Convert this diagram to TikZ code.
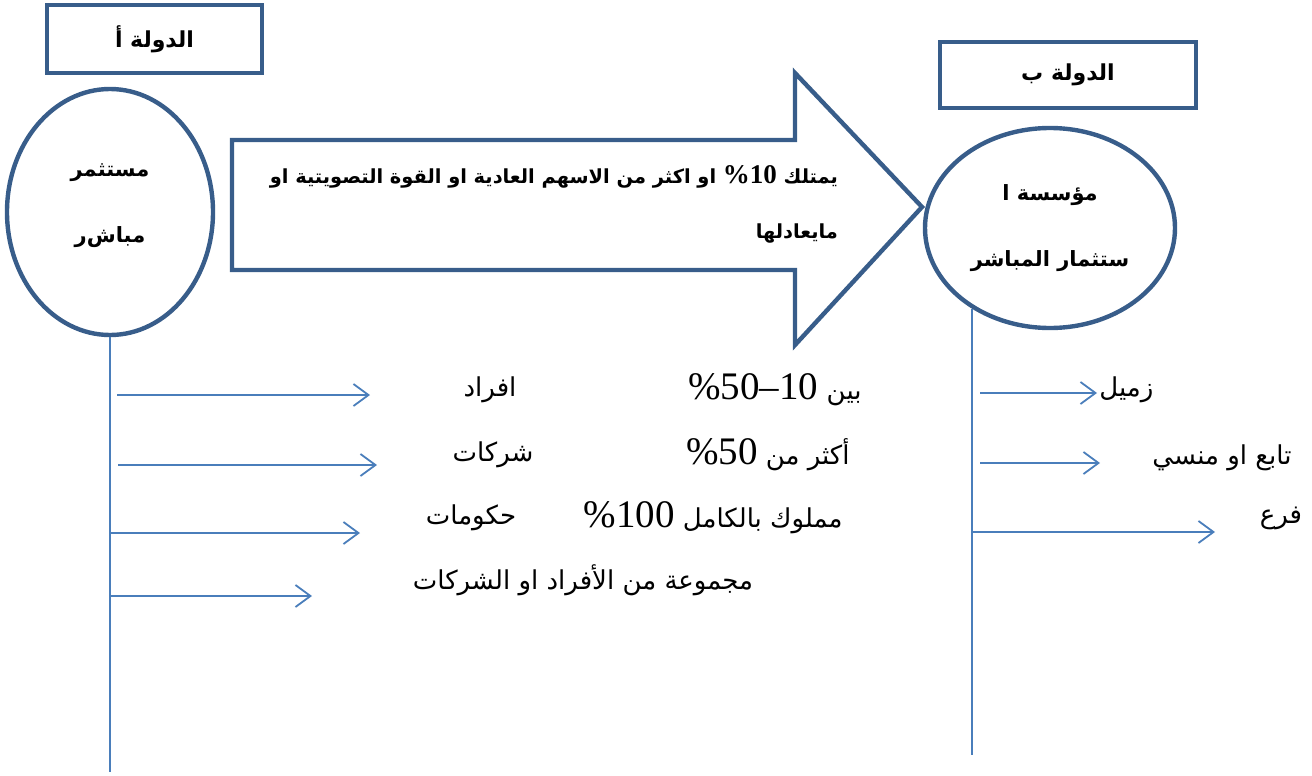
\documentclass[tikz,border=0pt]{standalone}
\usepackage{fontspec}
\usetikzlibrary{shapes.geometric, arrows.meta}
\definecolor{boxblue}{HTML}{385D8A}
\definecolor{lineblue}{HTML}{4A7EBB}
\newfontfamily\arabicfont[Script=Arabic]{DejaVu Sans}
\newfontfamily\numfont{Liberation Serif}
\TeXXeTstate=1

\begin{document}
\begin{tikzpicture}[x=0.5pt, y=-0.5pt,
            country/.style ={draw=boxblue, line width=2.2pt, font=\arabicfont\bfseries\fontsize{11}{13}\selectfont},
            agent/.style ={ellipse, draw=boxblue, line width=2.2pt, align=center,
            font=\arabicfont\bfseries\fontsize{10.5}{33}\selectfont},
            stem/.style ={draw=lineblue, line width=0.9pt},
            link/.style ={stem, -{Straight Barb[length=7.5pt, width=11pt]}},
            rowtext/.style ={font=\arabicfont\fontsize{13}{15}\selectfont, inner sep=0pt}]
        \useasboundingbox (0,0) rectangle (1312,776);

        %\node [estilo] (nombre) at (x,y) {}; -- coordenadas en pixeles
        \node[country, minimum width=107.5pt, minimum height=34pt] (pA) at (154.5,39) {\beginR الدولة أ\endR};
        \node[country, minimum width=128pt, minimum height=33pt] (pB) at (1068,75) {\beginR الدولة ب\endR};
        \node[agent, minimum width=103pt, minimum height=123pt] (A) at (110,212) {\beginR مستثمر\endR\\\beginR مباش‌ر\endR\\[-24pt]};
        \node[agent, minimum width=125pt, minimum height=100pt] (B) at (1050,228) {\beginR مؤسسة ا\endR\\\beginR ستثمار المباشر\endR};

        % flecha grande
        \draw[boxblue, line width=2.2pt] (232,140) -- (795,140) -- (795,73) -- (922,207) -- (795,345) -- (795,270) -- (232,270) -- cycle;
        \node[anchor=east, align=right, font=\arabicfont\bfseries\fontsize{9.7}{27.5}\selectfont] (own) at (845,204)
            {\beginR يمتلك \beginL{\numfont\bfseries\fontsize{13.5}{13.5}\selectfont\%10}\endL{} او اكثر من الاسهم العادية او القوة التصويتية او\endR\\\beginR مايعادلها\endR};

        \coordinate (endA) at (110,772);
        \coordinate (endB) at (973,755);
        \path[stem] (A.south) -- (endA);
        \path[stem] (B.226) -- (B.226 |- endB);

        \coordinate (a1) at (117,395); \coordinate (a1e) at (370,395);
        \coordinate (a2) at (118,465); \coordinate (a2e) at (377,465);
        \coordinate (a3) at (110,533); \coordinate (a3e) at (360,533);
        \coordinate (a4) at (110,596); \coordinate (a4e) at (312,596);
        \coordinate (b1) at (980,393); \coordinate (b1e) at (1097,393);
        \coordinate (b2) at (980,463); \coordinate (b2e) at (1100,463);
        \coordinate (b3) at (973,532); \coordinate (b3e) at (1215,532);

        \path[link] (a1) -- (a1e);
        \path[link] (a2) -- (a2e);
        \path[link] (a3) -- (a3e);
        \path[link] (a4) -- (a4e);
        \path[link] (b1) -- (b1e);
        \path[link] (b2) -- (b2e);
        \path[link] (b3) -- (b3e);

        \node[rowtext, anchor=east] (r1) at (862,390) {\beginR بين \beginL{\numfont\fontsize{19.5}{19.5}\selectfont\%50–10}\endL\endR};
        \node[rowtext] (f1) at (490,390) {\beginR افراد\endR};
        \node[rowtext, anchor=east] (r2) at (850,455) {\beginR أكثر من \beginL{\numfont\fontsize{19.5}{19.5}\selectfont\%50}\endL\endR};
        \node[rowtext] (f2) at (493,455) {\beginR شركات\endR};
        \node[rowtext, anchor=east] (r3) at (843,518) {\beginR مملوك بالكامل \beginL{\numfont\fontsize{19.5}{19.5}\selectfont\%100}\endL\endR};
        \node[rowtext] (f3) at (471,518) {\beginR حكومات\endR};
        \node[rowtext] (f4) at (583,580) {\beginR مجموعة من الأفراد او الشركات\endR};

        \node[rowtext, anchor=west] (t1) at (1099,390) {\beginR زميل\endR};
        \node[rowtext] (t2) at (1222,458) {\beginR تابع او منسي\endR};
        \node[rowtext] (t3) at (1281,518) {\beginR فرع\endR};
    \end{tikzpicture}
\end{document}
